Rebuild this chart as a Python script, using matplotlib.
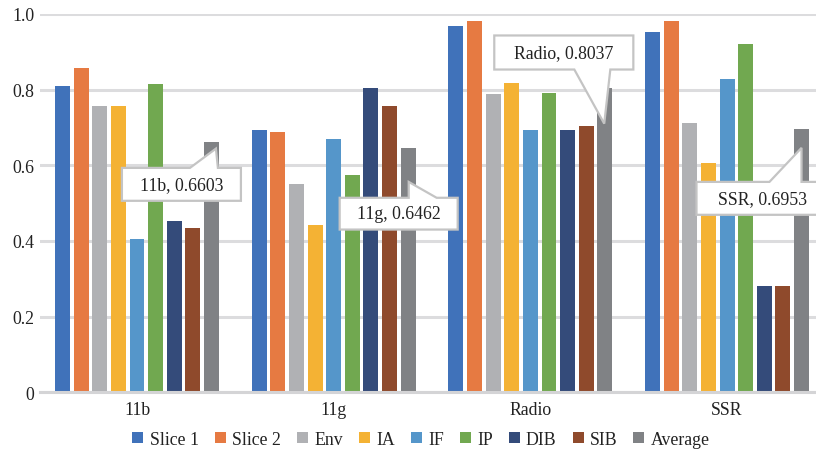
import numpy as np
import matplotlib
matplotlib.use("Agg")
import matplotlib.pyplot as plt
from matplotlib.patches import Polygon

plt.rcParams['font.family'] = ['Liberation Serif', 'DejaVu Serif']

# data
categories = ["11b", "11g", "Radio", "SSR"]
series = ["Slice 1", "Slice 2", "Env", "IA", "IF", "IP", "DIB", "SIB", "Average"]
slice1 = [0.809, 0.694, 0.969, 0.953]
slice2 = [0.858, 0.689, 0.982, 0.982]
env = [0.757, 0.551, 0.787, 0.712]
ia = [0.757, 0.441, 0.818, 0.606]
if_ = [0.405, 0.670, 0.694, 0.829]
ip = [0.816, 0.575, 0.792, 0.921]
dib = [0.453, 0.805, 0.694, 0.281]
sib = [0.435, 0.757, 0.704, 0.281]
average = [0.6603, 0.6462, 0.8037, 0.6953]
yticks = [0, 0.2, 0.4, 0.6, 0.8, 1.0]
ytick_labels = ["0", "0.2", "0.4", "0.6", "0.8", "1.0"]

colors = ["#4072BA", "#E67A42", "#B0B1B4", "#F4B234", "#5596CA",
          "#71A850", "#344B7A", "#8F4A2C", "#808285"]

values = [slice1, slice2, env, ia, if_, ip, dib, sib, average]

fig = plt.figure(figsize=(8.16, 4.52), dpi=100)
ax = fig.add_axes([40 / 816, 0.130, 776 / 816, 0.837])

x = np.arange(len(categories))
pitch = 0.0946
width = 0.076
for i, (name, vals) in enumerate(zip(series, values)):
    ax.bar(x + (i - 4) * pitch, vals, width, color=colors[i], label=name, zorder=3)

ax.set_xlim(-0.493, 3.452)
ax.set_ylim(0, 1.0)
ax.set_yticks(yticks)
ax.set_yticklabels(ytick_labels)
ax.set_xticks(x)
ax.set_xticklabels(categories)
ax.tick_params(axis='both', length=0, labelsize=12.8, colors='#222222')
ax.tick_params(axis='y', pad=4)
ax.tick_params(axis='x', pad=6)
ax.grid(axis='y', color='#DCDCDE', linewidth=2.2, zorder=0)
for s in ['top', 'right', 'left']:
    ax.spines[s].set_visible(False)
ax.spines['bottom'].set_color('#D4D4D6')
ax.spines['bottom'].set_linewidth(2.2)
ax.spines['bottom'].set_zorder(4)

# callout boxes on the Average bars:
# box x0, x1 (offset from bar), box y bottom, top, pointer base a, b, apex dx, apex y, side
avg_x = x + 4 * pitch
callouts = [
    (-0.455, 0.150, 0.506, 0.593, -0.109, 0.033, 0.023, 0.644, "top"),
    (-0.348, 0.252, 0.430, 0.514, 0.003, 0.145, 0.003, 0.556, "top"),
    (-0.562, 0.145, 0.853, 0.943, -0.155, 0.028, -0.003, 0.710, "bottom"),
    (-0.534, 0.160, 0.469, 0.556, -0.163, 0.000, 0.000, 0.646, "top"),
]
for cx, c, cat, val in zip(avg_x, callouts, categories, average):
    x0, x1, y0, y1, ba, bb, ax_, ay, side = c
    if side == "top":
        pts = [(x0, y0), (x1, y0), (x1, y1), (bb, y1), (ax_, ay), (ba, y1), (x0, y1)]
    else:
        pts = [(x0, y1), (x1, y1), (x1, y0), (bb, y0), (ax_, ay), (ba, y0), (x0, y0)]
    pts = [(cx + px, py) for px, py in pts]
    ax.add_patch(Polygon(pts, closed=True, fc="white", ec="#C4C4C4", lw=1.6,
                         zorder=6, clip_on=False, joinstyle='miter'))
    tx = cx + (x0 + x1) / 2
    if cat == "SSR":
        tx = cx - 0.20
    ax.text(tx, (y0 + y1) / 2, f"{cat}, {val:.4f}", fontsize=12.8, color='#222222',
            ha='center', va='center', zorder=7)

leg = fig.legend(loc='center', bbox_to_anchor=(0.516, 0.0265), ncol=9,
                 frameon=False, fontsize=12.8, handlelength=0.62, handleheight=0.62,
                 handletextpad=0.35, columnspacing=0.9, borderpad=0)
for t in leg.get_texts():
    t.set_color('#222222')

fig.savefig("out.png", dpi=100)
